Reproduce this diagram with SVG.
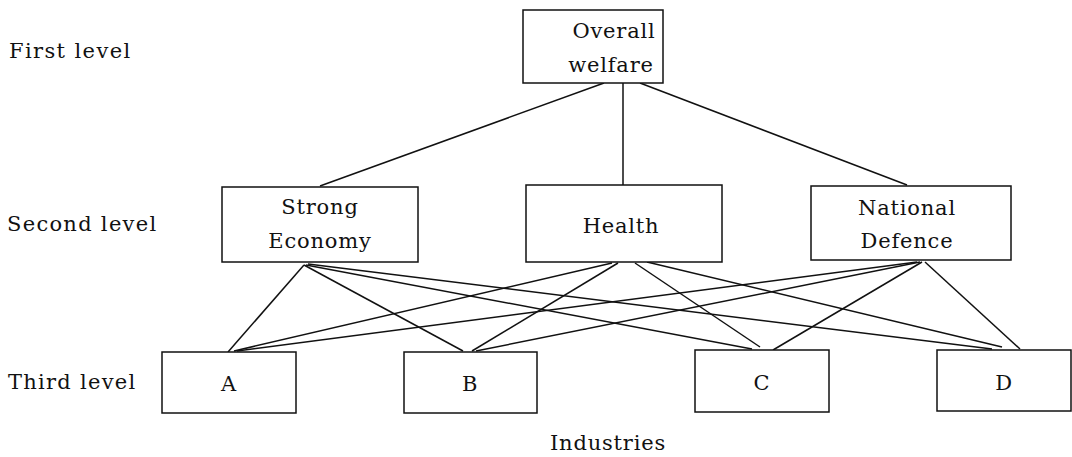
<svg xmlns="http://www.w3.org/2000/svg" width="1072" height="457" viewBox="0 0 1072 457">
<style>
rect{fill:#fff;stroke:#111;stroke-width:1.5}
text{font-family:"DejaVu Serif","Liberation Serif",serif;font-size:21px;fill:#111;letter-spacing:0.8px}
.c{text-anchor:middle}
#connectors line{stroke:#111;stroke-width:1.5}
</style>
<rect x="0" y="0" width="1072" height="457" style="fill:#fff;stroke:none"/>
<g id="labels">
<text x="9" y="58" textLength="122">First level</text>
<text x="7" y="231" textLength="150">Second level</text>
<text x="8" y="389" textLength="128">Third level</text>
<text class="c" x="608" y="450">Industries</text>
</g>
<g id="connectors">
<line x1="604" y1="83" x2="320" y2="186"/>
<line x1="623" y1="83" x2="623" y2="185"/>
<line x1="640" y1="83" x2="907" y2="185"/>
<line x1="304" y1="265" x2="228" y2="352"/>
<line x1="304" y1="265" x2="463" y2="351"/>
<line x1="306" y1="265" x2="752" y2="349"/>
<line x1="308" y1="264" x2="992" y2="349"/>
<line x1="612" y1="263" x2="234" y2="351"/>
<line x1="618" y1="263" x2="472" y2="351"/>
<line x1="635" y1="263" x2="760" y2="347"/>
<line x1="647" y1="262" x2="1002" y2="347"/>
<line x1="917" y1="262" x2="237" y2="351"/>
<line x1="920" y1="262" x2="476" y2="351"/>
<line x1="922" y1="262" x2="773" y2="350"/>
<line x1="925" y1="262" x2="1020" y2="349"/>
</g>
<g id="overall">
<rect x="523" y="10" width="140" height="73"/>
<text class="c" x="614" y="38">Overall</text>
<text class="c" x="611" y="72">welfare</text>
</g>
<g id="strong-economy">
<rect x="222" y="187" width="196" height="75"/>
<text class="c" x="320" y="214">Strong</text>
<text class="c" x="320" y="248">Economy</text>
</g>
<g id="health">
<rect x="526" y="185" width="196" height="77"/>
<text class="c" x="621" y="233">Health</text>
</g>
<g id="national-defence">
<rect x="811" y="186" width="200" height="74"/>
<text class="c" x="907" y="215">National</text>
<text class="c" x="907" y="248">Defence</text>
</g>
<g id="A">
<rect x="162" y="352" width="134" height="61"/>
<text class="c" x="229" y="391">A</text>
</g>
<g id="B">
<rect x="404" y="352" width="133" height="61"/>
<text class="c" x="470" y="391">B</text>
</g>
<g id="C">
<rect x="695" y="350" width="134" height="62"/>
<text class="c" x="762" y="390">C</text>
</g>
<g id="D">
<rect x="937" y="350" width="134" height="61"/>
<text class="c" x="1004" y="390">D</text>
</g>
</svg>
